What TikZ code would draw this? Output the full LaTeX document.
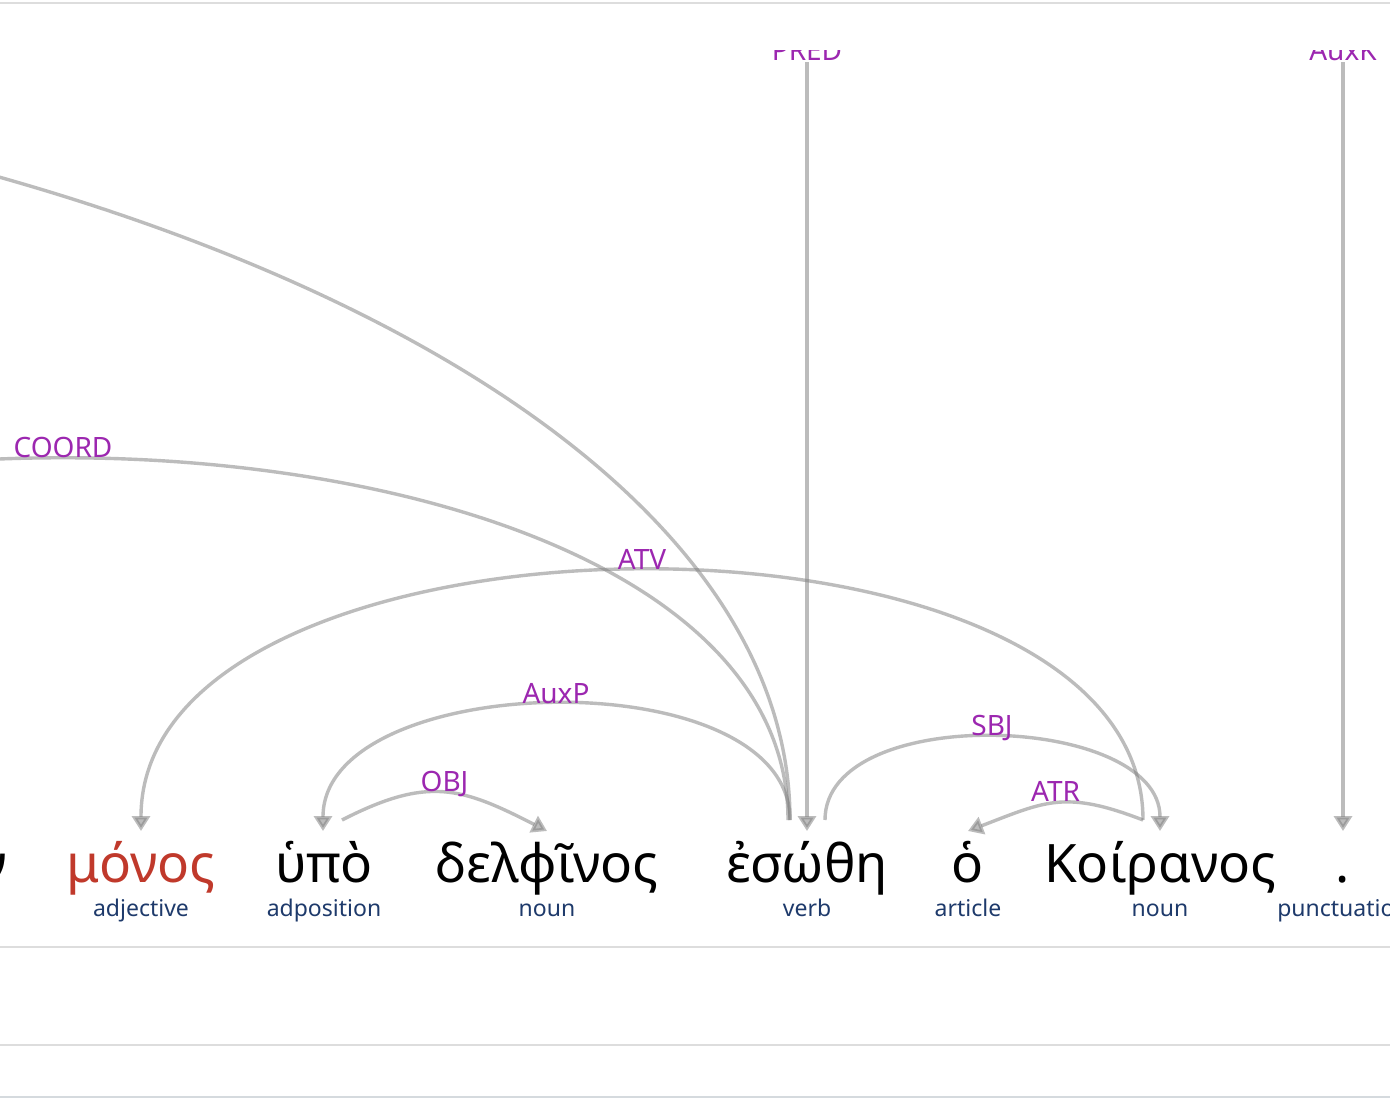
\documentclass[tikz,border=0pt]{standalone}
\usepackage{fontspec}
\setmainfont{Noto Sans}
\usetikzlibrary{arrows.meta}
\definecolor{arcgray}{gray}{0.5}
\definecolor{lblpurple}{HTML}{9C27B0}
\definecolor{posblue}{HTML}{1E3A6B}
\definecolor{wordred}{HTML}{C0392B}
\definecolor{rulegray}{HTML}{DDDDDD}
\definecolor{rulegrayb}{HTML}{D5DADE}
\begin{document}
\begin{tikzpicture}[x=1pt,y=-1pt,
  wordnode/.style={font=\fontsize{53}{58}\selectfont, anchor=base, inner sep=0pt},
  postag/.style={font=\fontsize{23}{26}\selectfont, text=posblue, anchor=base, inner sep=0pt},
  rellabel/.style={font=\fontsize{28}{30}\selectfont, text=lblpurple, anchor=base, inner sep=0pt},
  dep/.style={draw=arcgray, opacity=0.52, line width=3.4pt},
  deparrow/.style={dep, -{Triangle[width=18pt,length=15pt]}},
  rulerline/.style={draw=rulegray, line width=2pt}]
\useasboundingbox (0,0) rectangle (1390,1100);
\fill[white] (0,0) rectangle (1390,1100);
% rules
\draw[rulerline] (0,3) -- (1390,3);
\draw[rulerline] (0,946.5) -- (1390,946.5);
\draw[rulerline] (0,1045) -- (1390,1045);
\draw[rulerline, draw=rulegrayb] (0,1096.5) -- (1390,1096.5);
% anchor coordinates
\coordinate (farA) at (-30,169);
\coordinate (farB) at (-662,820);
\coordinate (vA) at (790,820);
\coordinate (vB) at (788,820);
\coordinate (vC) at (790,820);
\coordinate (vIn) at (807,831);
\coordinate (vR) at (825,820);
\coordinate (mIn) at (141,831);
\coordinate (uIn) at (323,831);
\coordinate (uOut) at (342,820);
\coordinate (dIn) at (547,831);
\coordinate (oIn) at (968,831);
\coordinate (kOut) at (1143,820);
\coordinate (kIn) at (1160,831);
\coordinate (pIn) at (1343,831);
\coordinate (predTop) at (807,62);
\coordinate (auxkTop) at (1343,62);
% arcs
\draw[dep] (farA) .. controls (440,296) and (790,530) .. (vA);
\draw[dep] (farB) .. controls +(0,-483) and +(0,-483) .. (vB);
\draw[deparrow] (kOut) .. controls +(0,-340) and +(0,-340) .. (mIn);
\draw[deparrow] (vC) .. controls +(0,-162) and +(0,-162) .. (uIn);
\draw[deparrow] (uOut) .. controls +(86,-44) and +(-86,-44) .. (dIn);
\draw[deparrow] (vR) .. controls +(0,-118) and +(0,-118) .. (kIn);
\draw[deparrow] (kOut) .. controls +(-78,-30) and +(78,-30) .. (oIn);
\draw[deparrow] (predTop) -- (vIn);
\draw[deparrow] (auxkTop) -- (pIn);
% relation labels
\node[rellabel] (lCoord) at (63,457) {COORD};
\node[rellabel] (lAtv) at (642,569) {ATV};
\node[rellabel] (lAuxp) at (556,703) {AuxP};
\node[rellabel] (lObj) at (444.5,791) {OBJ};
\node[rellabel] (lSbj) at (992,735) {SBJ};
\node[rellabel] (lAtr) at (1055.5,801) {ATR};
\begin{scope}
\clip (0,50) rectangle (1390,1100);
\node[rellabel] (lPred) at (807,60) {PRED};
\node[rellabel] (lAuxk) at (1343,60) {AuxK};
\end{scope}
% words
\node[wordnode, anchor=base east] (w0) at (7,882) {ν};
\node[wordnode, text=wordred] (w1) at (141,882) {μόνος};
\node[wordnode] (w2) at (324,882) {ὑπὸ};
\node[wordnode] (w3) at (547,882) {δελφῖνος};
\node[wordnode] (w4) at (807,882) {ἐσώθη};
\node[wordnode] (w5) at (968,882) {ὁ};
\node[wordnode] (w6) at (1160,882) {Κοίρανος};
\node[wordnode] (w7) at (1343,882) {.};
% parts of speech
\node[postag] (p1) at (141,916) {adjective};
\node[postag] (p2) at (324,916) {adposition};
\node[postag] (p3) at (547,916) {noun};
\node[postag] (p4) at (807,916) {verb};
\node[postag] (p5) at (968,916) {article};
\node[postag] (p6) at (1160,916) {noun};
\node[postag] (p7) at (1343,916) {punctuation};
\end{tikzpicture}
\end{document}
